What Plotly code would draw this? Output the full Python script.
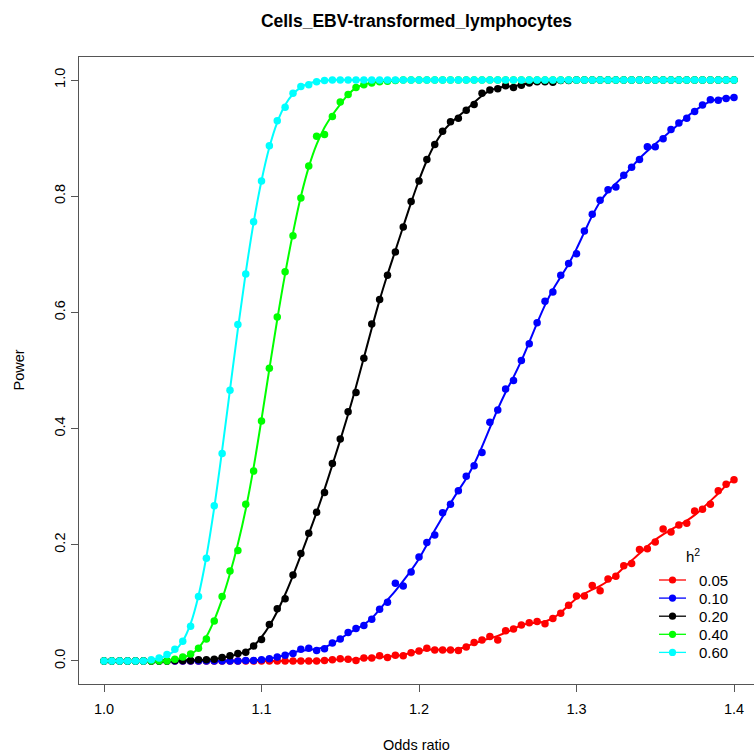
import numpy as np
import plotly.graph_objects as go

# ---------------- data ----------------
odds_ratio = np.round(np.linspace(1.0, 1.4, 81), 3)

power_005 = [0, 0, 0, 0, 0, 0, 0, 0, 0, 0,
             0, 0, 0, 0, 0, 0, 0, 0, 0, 0,
             0, 0, 0, 0, 0, 0.000, 0.000, 0.000, 0.001, 0.002,
             0.004, 0.003, 0.001, 0.005, 0.005, 0.009, 0.006, 0.010, 0.009, 0.014,
             0.017, 0.022, 0.019, 0.019, 0.019, 0.018, 0.024, 0.032, 0.036, 0.042,
             0.036, 0.052, 0.055, 0.062, 0.066, 0.068, 0.064, 0.073, 0.082, 0.096,
             0.112, 0.112, 0.130, 0.121, 0.141, 0.146, 0.164, 0.168, 0.192, 0.193,
             0.205, 0.227, 0.222, 0.234, 0.237, 0.258, 0.261, 0.270, 0.293, 0.304,
             0.312]

power_010 = [0, 0, 0, 0, 0, 0, 0, 0, 0, 0,
             0, 0, 0, 0, 0, 0, 0, 0, 0.001, 0.001,
             0.002, 0.004, 0.007, 0.010, 0.013, 0.020, 0.022, 0.018, 0.021, 0.031,
             0.038, 0.049, 0.056, 0.061, 0.072, 0.089, 0.101, 0.134, 0.129, 0.153,
             0.179, 0.204, 0.217, 0.255, 0.270, 0.293, 0.318, 0.336, 0.359, 0.411,
             0.432, 0.468, 0.483, 0.517, 0.546, 0.582, 0.619, 0.635, 0.664, 0.684,
             0.701, 0.740, 0.769, 0.793, 0.811, 0.816, 0.836, 0.850, 0.863, 0.885,
             0.885, 0.899, 0.915, 0.926, 0.934, 0.946, 0.957, 0.966, 0.965, 0.968,
             0.970]

power_020 = [0, 0, 0, 0, 0, 0, 0, 0, 0, 0.001,
             0.001, 0.001, 0.002, 0.002, 0.003, 0.006, 0.009, 0.013, 0.015, 0.026,
             0.037, 0.063, 0.090, 0.107, 0.148, 0.185, 0.220, 0.256, 0.290, 0.340,
             0.382, 0.429, 0.462, 0.521, 0.580, 0.622, 0.664, 0.704, 0.747, 0.791,
             0.826, 0.863, 0.889, 0.912, 0.928, 0.934, 0.948, 0.958, 0.977, 0.983,
             0.985, 0.990, 0.987, 0.991, 0.995, 0.997, 0.997, 0.996, 0.999, 0.999,
             1, 1, 1, 1, 1, 1, 1, 1, 1, 1,
             1, 1, 1, 1, 1, 1, 1, 1, 1, 1,
             1]

power_040 = [0, 0, 0, 0, 0, 0, 0, 0, 0, 0.003,
             0.007, 0.012, 0.022, 0.038, 0.069, 0.111, 0.155, 0.190, 0.270, 0.327,
             0.413, 0.504, 0.592, 0.670, 0.732, 0.797, 0.852, 0.903, 0.906, 0.937,
             0.962, 0.975, 0.987, 0.992, 0.995, 0.997, 0.998, 0.999, 1, 1,
             1, 1, 1, 1, 1, 1, 1, 1, 1, 1,
             1, 1, 1, 1, 1, 1, 1, 1, 1, 1,
             1, 1, 1, 1, 1, 1, 1, 1, 1, 1,
             1, 1, 1, 1, 1, 1, 1, 1, 1, 1,
             1]

power_060 = [0, 0, 0, 0, 0, 0, 0.002, 0.005, 0.011, 0.020,
             0.034, 0.060, 0.111, 0.177, 0.267, 0.357, 0.466, 0.579, 0.666, 0.756,
             0.826, 0.887, 0.930, 0.953, 0.977, 0.989, 0.992, 0.997, 0.999, 1,
             1, 1, 1, 1, 1, 1, 1, 1, 1, 1,
             1, 1, 1, 1, 1, 1, 1, 1, 1, 1,
             1, 1, 1, 1, 1, 1, 1, 1, 1, 1,
             1, 1, 1, 1, 1, 1, 1, 1, 1, 1,
             1, 1, 1, 1, 1, 1, 1, 1, 1, 1,
             1]

h2_labels = ["0.05", "0.10", "0.20", "0.40", "0.60"]
series = [power_005, power_010, power_020, power_040, power_060]
colors = ["#FF0000", "#0000FF", "#000000", "#00FF00", "#00FFFF"]

x_ticks = [1.0, 1.1, 1.2, 1.3, 1.4]
y_ticks = [0.0, 0.2, 0.4, 0.6, 0.8, 1.0]


# local quadratic (loess-like) smoother, as the fitted curves in the original
def loess(x, y, half=5):
    x = np.asarray(x, float)
    y = np.asarray(y, float)
    out = np.empty_like(y)
    n = len(x)
    for i in range(n):
        lo, hi = max(0, i - half), min(n, i + half + 1)
        xs, ys = x[lo:hi], y[lo:hi]
        d = np.abs(xs - x[i])
        dmax = d.max() * 1.0001 + 1e-12
        w = (1 - (d / dmax) ** 3) ** 3
        A = np.vstack([np.ones_like(xs), xs - x[i], (xs - x[i]) ** 2]).T
        W = np.sqrt(w)
        coef, *_ = np.linalg.lstsq(A * W[:, None], ys * W, rcond=None)
        out[i] = coef[0]
    return out


FONT = "Liberation Sans, Arial, Helvetica, sans-serif"
fig = go.Figure()

for lab, ys, col in zip(h2_labels, series, colors):
    fig.add_trace(go.Scatter(x=odds_ratio, y=loess(odds_ratio, ys), mode="lines",
                             line=dict(color=col, width=2, shape="spline"),
                             showlegend=False, hoverinfo="skip"))
    fig.add_trace(go.Scatter(x=odds_ratio, y=ys, mode="markers",
                             marker=dict(color=col, size=7.5), showlegend=False))

# plot-area geometry (pixels) used to place the legend drawn in paper space
L, R, T, B = 79, 754, 57, 684
W_, H_ = R - L, B - T


def px(xpix):
    return (xpix - L) / W_


def py(ypix):
    return (B - ypix) / H_


shapes = []
annotations = [
    dict(text="Odds ratio", xref="paper", yref="paper", x=0.5, y=py(745),
         xanchor="center", yanchor="middle", showarrow=False, font=dict(size=14.5, family=FONT)),
    dict(text="Power", xref="paper", yref="paper", x=px(18), y=0.5,
         xanchor="center", yanchor="middle", textangle=-90, showarrow=False,
         font=dict(size=14.5, family=FONT)),
    dict(text="h<sup>2</sup>", xref="paper", yref="paper", x=px(693), y=py(555),
         xanchor="center", yanchor="middle", showarrow=False, font=dict(size=15, family=FONT)),
]
for i, (lab, col) in enumerate(zip(h2_labels, colors)):
    yy = 580 + 18.1 * i
    shapes.append(dict(type="line", xref="paper", yref="paper",
                       x0=px(659), x1=px(686), y0=py(yy), y1=py(yy),
                       line=dict(color=col, width=1.3)))
    shapes.append(dict(type="circle", xref="paper", yref="paper",
                       x0=px(672.5 - 3.6), x1=px(672.5 + 3.6), y0=py(yy + 3.6), y1=py(yy - 3.6),
                       fillcolor=col, line=dict(color=col, width=0)))
    annotations.append(dict(text=lab, xref="paper", yref="paper", x=px(697), y=py(yy),
                            xanchor="left", yanchor="middle", showarrow=False,
                            font=dict(size=15, family=FONT)))

axis_col = "#555555"
fig.update_layout(
    width=754, height=753,
    margin=dict(l=L, r=754 - R, t=T, b=753 - B),
    paper_bgcolor="white", plot_bgcolor="white",
    showlegend=False,
    font=dict(family=FONT, size=14.5, color="black"),
    title=dict(text="<b>Cells_EBV-transformed_lymphocytes</b>",
               x=0.5, xref="paper", xanchor="center",
               y=1 - 21 / 753, yref="container", yanchor="middle",
               font=dict(size=17.5, family=FONT, color="black")),
    xaxis=dict(range=[0.98413, 1.41270], tickvals=x_ticks, ticktext=[f"{v:.1f}" for v in x_ticks],
               showgrid=False, zeroline=False, showline=True, mirror=True,
               linecolor=axis_col, linewidth=1, ticks="outside", ticklen=7,
               tickcolor=axis_col, ticklabelstandoff=5, tickfont=dict(size=14.5, family=FONT)),
    yaxis=dict(range=[-0.0396, 1.0396], tickvals=y_ticks, ticktext=[f"{v:.1f}" for v in y_ticks],
               showgrid=False, zeroline=False, showline=True, mirror=False,
               linecolor=axis_col, linewidth=1, ticks="outside", ticklen=7,
               tickcolor=axis_col, tickangle=-90, tickfont=dict(size=14.5, family=FONT)),
    shapes=shapes,
    annotations=annotations,
)

fig.write_html("out.html")
